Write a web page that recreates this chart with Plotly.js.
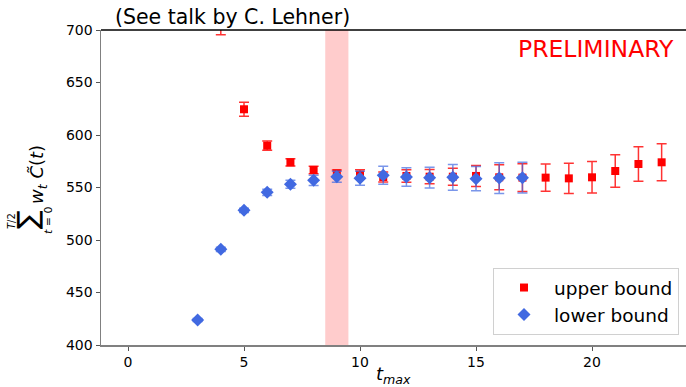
<!DOCTYPE html>
<html>
<head>
<meta charset="utf-8">
<script src="https://cdn.plot.ly/plotly-3.0.1.min.js"></script>
<style>html,body{margin:0;padding:0;overflow:hidden;background:#fff;}</style>
</head>
<body>
<div id="chart" style="width:686px;height:387px;"></div>
<script>
// ---- data ----
const tmaxUpper = [4, 5, 6, 7, 8, 9, 10, 11, 12, 13, 14, 15, 16, 17, 18, 19, 20, 21, 22, 23];
const upperBound = [707, 624.5, 589.8, 574, 566.7, 563.5, 562.3, 560, 561, 560.3, 560.3, 561, 559.7, 559.4, 559.4, 558.7, 559.7, 565.7, 572.4, 574];
const upperErr = [11.5, 6.7, 4.4, 3.5, 3.5, 3.2, 4.5, 4.8, 5.9, 6.8, 8.1, 10, 11.9, 13.3, 13, 14.3, 15, 15.5, 16.5, 17.6];

const tmaxLower = [3, 4, 5, 6, 7, 8, 9, 10, 11, 12, 13, 14, 15, 16, 17];
const lowerBound = [423.8, 491.1, 528.3, 545.4, 553, 556.8, 560.3, 558.8, 561.6, 560, 559.4, 559.7, 558.4, 559, 559.4];
const lowerErr = [1.5, 2, 2, 2.9, 3.8, 4.8, 5.2, 6.7, 8.6, 8.7, 9.8, 12.2, 11.6, 14.6, 14.6];

const bandRange = [8.5, 9.5];
const xTicks = [0, 5, 10, 15, 20];
const yTicks = [400, 450, 500, 550, 600, 650, 700];

const seriesNames = ["upper bound", "lower bound"];
const titleText = "(See talk by C. Lehner)";
const stampText = "PRELIMINARY";

// ---- plot ----
const FONT = "DejaVu Sans, sans-serif";
const plotTop = 30, plotBottom = 345, plotH = plotBottom - plotTop;
function py(p) { return (plotBottom - p) / plotH; }

const traces = [
  {
    x: tmaxUpper, y: upperBound, name: seriesNames[0], type: "scatter", mode: "markers",
    marker: {symbol: "square", size: 8, color: "#ff0000"},
    error_y: {type: "data", array: upperErr, visible: true, color: "rgba(255,0,0,0.8)", thickness: 1.5, width: 5}
  },
  {
    x: tmaxLower, y: lowerBound, name: seriesNames[1], type: "scatter", mode: "markers",
    marker: {symbol: "diamond", size: 10, color: "#4169e1"},
    error_y: {type: "data", array: lowerErr, visible: true, color: "rgba(65,105,225,0.7)", thickness: 1.5, width: 5}
  }
];

const layout = {
  width: 686, height: 387,
  margin: {l: 101, r: 0, t: plotTop, b: 387 - plotBottom, pad: 0},
  paper_bgcolor: "#fff", plot_bgcolor: "#fff",
  font: {family: FONT, size: 14, color: "#000"},
  showlegend: true,
  legend: {
    x: 0.988, y: py(335), xanchor: "right", yanchor: "bottom",
    bgcolor: "#fff", bordercolor: "#d0d0d0", borderwidth: 1,
    font: {family: FONT, size: 18.5, color: "#000"},
    traceorder: "normal", itemwidth: 50, tracegroupgap: 0
  },
  xaxis: {
    range: [-1.164, 24.05], tickvals: xTicks, ticktext: xTicks.map(String),
    showgrid: false, zeroline: false, showline: true, linecolor: "#808080", linewidth: 1.5,
    ticks: "outside", ticklen: 4, tickcolor: "#555", tickwidth: 1,
    tickfont: {family: FONT, size: 14, color: "#000"}
  },
  yaxis: {
    range: [400, 700], tickvals: yTicks, ticktext: yTicks.map(String),
    showgrid: false, zeroline: false, showline: true, linecolor: "#808080", linewidth: 1.5,
    ticks: "outside", ticklen: 4, tickcolor: "#555", tickwidth: 1,
    tickfont: {family: FONT, size: 14, color: "#000"}
  },
  shapes: [
    {type: "rect", xref: "x", yref: "paper", x0: bandRange[0], x1: bandRange[1], y0: 0, y1: 1,
     fillcolor: "rgba(255,0,0,0.2)", line: {width: 0}, layer: "below"},
    {type: "line", xref: "paper", yref: "paper", x0: 0, x1: 1, y0: 1, y1: 1,
     line: {color: "#000", width: 1.5}}
  ],
  annotations: [
    {text: titleText, xref: "paper", yref: "paper", x: (113 - 101) / 585, y: py(17),
     xanchor: "left", yanchor: "middle", showarrow: false, font: {family: FONT, size: 20.5, color: "#000"}},
    {text: stampText, xref: "paper", yref: "paper", x: (676 - 101) / 585, y: py(49),
     xanchor: "right", yanchor: "middle", showarrow: false, font: {family: FONT, size: 23.5, color: "#ff0000"}},
    // x-axis title
    {text: "<i>t</i><sub><i>max</i></sub>", xref: "paper", yref: "paper", x: 0.5, y: py(375),
     xanchor: "center", yanchor: "middle", showarrow: false, font: {family: FONT, size: 18, color: "#000"}},
    // y-axis title pieces (rotated)
    {text: "\u2211", xref: "paper", yref: "paper", x: 0, xshift: -(101 - 27), y: py(220),
     xanchor: "center", yanchor: "middle", textangle: -90, showarrow: false, font: {family: FONT, size: 28, color: "#000"}},
    {text: "<i>T</i>/2", xref: "paper", yref: "paper", x: 0, xshift: -(101 - 11), y: py(221),
     xanchor: "center", yanchor: "middle", textangle: -90, showarrow: false, font: {family: FONT, size: 10, color: "#000"}},
    {text: "<i>t</i> = 0", xref: "paper", yref: "paper", x: 0, xshift: -(101 - 48), y: py(220),
     xanchor: "center", yanchor: "middle", textangle: -90, showarrow: false, font: {family: FONT, size: 11, color: "#000"}},
    {text: "<i>w</i><sub><i>t</i></sub> <i>C\u0303</i>(<i>t</i>)", xref: "paper", yref: "paper", x: 0, xshift: -(101 - 38), y: py(175),
     xanchor: "center", yanchor: "middle", textangle: -90, showarrow: false, font: {family: FONT, size: 18, color: "#000"}}
  ]
};

Plotly.newPlot("chart", traces, layout, {displayModeBar: false, staticPlot: true});
</script>
</body>
</html>
